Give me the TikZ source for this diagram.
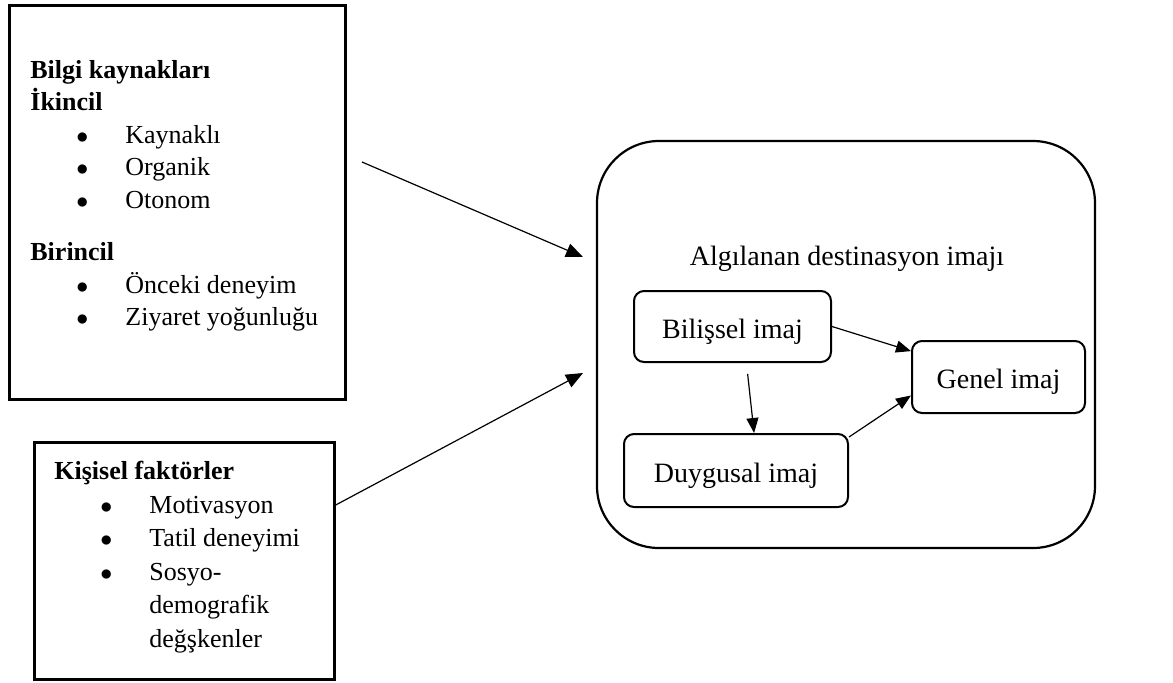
\documentclass[tikz,border=0pt]{standalone}
\usepackage{fontspec}
\setmainfont{Liberation Serif}
\usetikzlibrary{arrows.meta}
\usetikzlibrary{calc}
\tikzset{
  kutu/.style = {draw, line width=1.35pt, inner sep=0pt, anchor=north west}
}
\tikzset{
  liste/.style = {anchor=north west, align=left, inner sep=0pt}
}
\tikzset{
  imajkutu/.style = {draw, line width=1pt, rounded corners=5pt, inner sep=0pt,
    font=\fontsize{14pt}{17pt}\selectfont, text height=14.5pt, text depth=3pt}
}
\tikzset{
  >={Triangle[length=8.5pt,width=7pt]},
  kucukok/.style = {-{Triangle[length=7.5pt,width=6pt]}, line width=0.6pt}
}
\newcommand{\madde}[1]{\makebox[47.5pt][l]{\hspace*{23pt}$\bullet$}%
  \parbox[t]{110pt}{\raggedright #1}}

\begin{document}
\begin{tikzpicture}[x=0.5pt, y=-0.5pt]
  \useasboundingbox (0,0) rectangle (1173,682);

  % left boxes
  \node[kutu, minimum width=168pt, minimum height=197pt] (bilgi) at (8,4) {};
  \node[liste, font=\fontsize{13pt}{16.25pt}\selectfont] (bilgimetin) at (30,60)
    {\textbf{Bilgi kaynakları}\\ \textbf{İkincil}\\ \madde{Kaynaklı}\\ \madde{Organik}\\
     \madde{Otonom}\\[10pt] \textbf{Birincil}\\ \madde{Önceki deneyim}\\ \madde{Ziyaret yoğunluğu}};

  \node[kutu, minimum width=150pt, minimum height=118.5pt] (kisisel) at (33,441) {};
  \node[liste, font=\fontsize{13pt}{16.75pt}\selectfont] (kisiselmetin) at (54,461)
    {\textbf{Kişisel faktörler}\\ \madde{Motivasyon}\\ \madde{Tatil deneyimi}\\
     \madde{Sosyo-\\demografik\\değşkenler}};

  % image box
  \node[draw, line width=1.1pt, rounded corners=31pt, minimum width=249pt,
    minimum height=203.5pt] (algilanan) at (846,344.5) {};
  \node[anchor=base, font=\fontsize{14pt}{17pt}\selectfont] (baslik) at (847,265)
    {Algılanan destinasyon imajı};

  \node[imajkutu, minimum width=98.5pt, minimum height=35.5pt] (bilissel) at (732.5,326.5) {Bilişsel imaj};
  \node[imajkutu, minimum width=86.5pt, minimum height=36pt] (genel) at (998.5,377) {Genel imaj};
  \node[imajkutu, minimum width=112pt, minimum height=36.5pt] (duygusal) at (736,470.5) {Duygusal imaj};

  % arrows
  \coordinate (ok1bas) at (362,162);
  \coordinate (ok1uc) at (583,257);
  \coordinate (ok2uc) at (583,373);
  \draw[->, line width=0.6pt] (ok1bas) -- (ok1uc);
  \draw[->, line width=0.6pt] ($(kisisel.north east)+(0,64)$) -- (ok2uc);

  \draw[kucukok] (bilissel.east) -- ($(genel.north west)!0.15!(genel.south west)$);
  \draw[kucukok, shorten <=5.5pt] ($(bilissel.south west)!0.57!(bilissel.south east)$)
    -- ($(duygusal.north west)!0.58!(duygusal.north east)$);
  \draw[kucukok] ($(duygusal.north east)+(0,4)$) -- ($(genel.north west)!0.75!(genel.south west)$);
\end{tikzpicture}
\end{document}
